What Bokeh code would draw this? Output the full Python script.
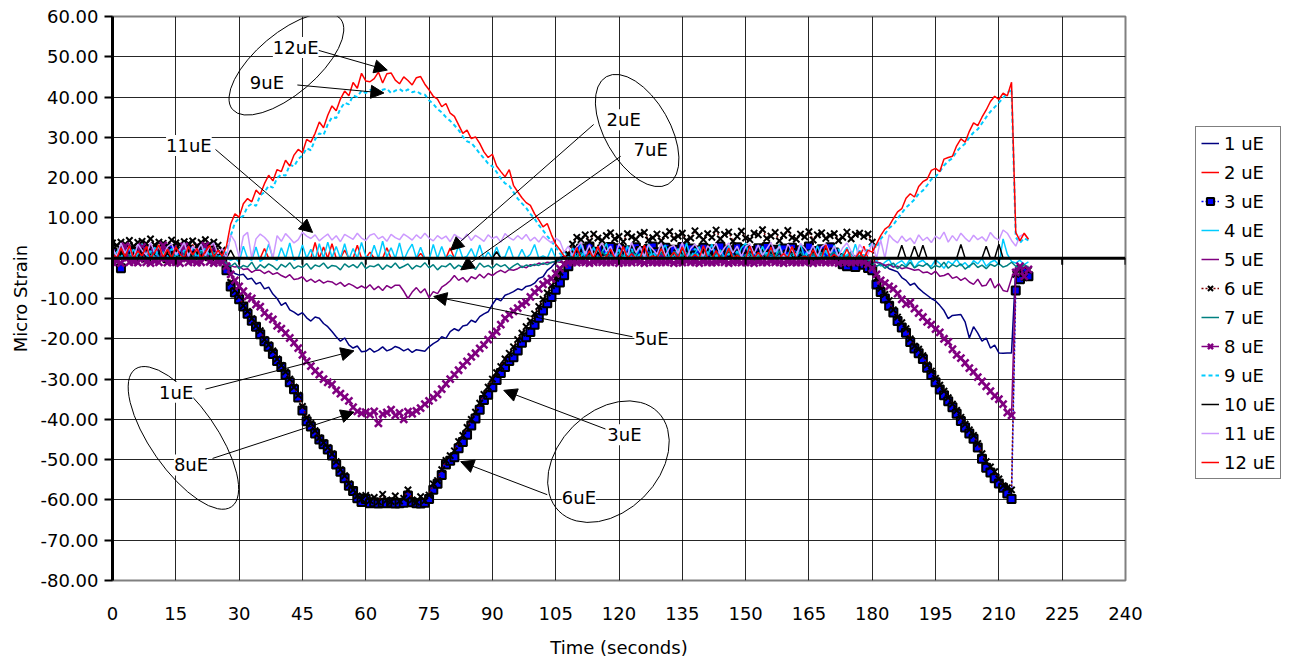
from bokeh.plotting import figure
from bokeh.layouts import row
from bokeh.models import (Range1d, FixedTicker, NumeralTickFormatter, Legend, LegendItem,
                          Label, Arrow, NormalHead, Span)
from bokeh.embed import file_html
from bokeh.resources import INLINE

# ---------------- data (1 sample per second) ----------------
time_s = list(range(0, 218))

s1 = [0.5, 1.8, 0.2, 2.5, 1.0, 0.0, 2.2, 1.4, 0.3, 2.8,
      0.9, 1.6, 0.0, 2.0, 1.2, 0.4, 2.6, 1.0, 0.2, 1.9,
      0.7, 2.3, 1.1, 0.0, 1.7, 0.8, 0.0, -2.5, -3.0, -3.8,
      -4.2, -4.0, -5.2, -5.0, -6.4, -6.0, -7.6, -7.2, -8.9, -10.0,
      -11.7, -11.0, -12.8, -13.4, -14.1, -13.5, -14.8, -15.6, -14.6, -14.9,
      -16.2, -17.0, -18.2, -19.5, -20.6, -19.8, -21.5, -22.3, -21.8, -23.2,
      -23.1, -22.4, -23.3, -22.8, -22.0, -23.0, -22.6, -21.9, -22.3, -23.0,
      -22.5, -23.4, -22.7, -22.9, -23.1, -22.0, -21.2, -20.6, -19.5, -19.9,
      -18.2, -17.5, -18.0, -16.8, -16.6, -15.4, -15.9, -14.5, -13.8, -13.3,
      -11.5, -10.0, -10.6, -9.2, -8.8, -8.3, -7.6, -7.9, -7.0, -6.8,
      -6.2, -5.0, -4.6, -3.0, -2.2, -1.0, 0.2, 0.5, 0.0, 1.0,
      0.2, 1.5, 0.6, 0.0, 1.8, 0.9, 0.3, 1.2, 0.0, 1.6,
      0.7, 0.1, 1.9, 0.5, 1.1, 0.0, 1.4, 0.8, 0.2, 1.7,
      0.4, 1.0, 0.0, 1.3, 0.6, 1.8, 0.3, 0.9, 0.0, 1.5,
      0.7, 1.2, 0.1, 1.6, 0.4, 0.0, 1.9, 0.8, 1.1, 0.2,
      1.4, 0.6, 0.0, 1.7, 0.9, 0.3, 1.2, 0.5, 1.8, 0.0,
      1.0, 0.7, 1.5, 0.2, 0.8, 1.3, 0.0, 1.6, 0.4, 1.1,
      0.6, 0.0, 1.4, 0.9, 0.2, 1.0, 0.5, 0.0, -0.5, -1.0,
      -1.2, -1.0, -1.5, -1.8, -2.6, -3.0, -3.4, -4.8, -5.5, -6.7,
      -6.2, -7.5, -8.4, -9.2, -10.0, -10.6, -11.7, -13.0, -15.0, -14.2,
      -14.1, -14.0, -15.8, -19.8, -17.0, -18.6, -20.6, -19.8, -22.3, -21.6,
      -23.5, -23.6, -23.5, -23.5, -2.5, -3.0, -2.2, -2.8]

s2 = [2.0, 0.0, 3.2, 0.5, 0.0, 2.6, 0.0, 1.4, 3.5, 0.0,
      0.0, 2.2, 0.0, 3.0, 0.8, 0.0, 2.7, 0.0, 0.0, 3.4,
      1.0, 0.0, 2.4, 0.0, 3.1, 0.0, 0.5, 0.0, 0.0, 0.0,
      0.0, 0.0, 0.0, 0.0, 0.0, 0.0, 2.4, 0.0, 0.0, 0.0,
      0.0, 0.0, 0.0, 0.0, 0.0, 0.0, 0.0, 0.0, 3.9, 0.0,
      2.8, 0.0, 3.6, 0.0, 0.0, 2.0, 0.0, 0.0, 3.2, 0.0,
      0.0, 1.5, 0.0, 0.0, 0.0, 2.6, 0.0, 0.0, 0.0, 0.0,
      0.0, 0.0, 0.0, 1.2, 0.0, 0.0, 0.0, 0.0, 0.0, 0.0,
      2.5, 0.0, 0.0, 0.0, 0.0, 0.0, 0.0, 0.0, 0.0, 0.0,
      0.0, 0.0, 0.0, 0.0, 0.0, 0.0, 0.0, 0.0, 0.0, 0.0,
      0.0, 0.0, 0.0, 0.0, 0.0, 0.0, 0.0, 0.0, 0.0, 2.8,
      0.0, 0.0, 3.1, 0.0, 0.0, 1.6, 0.0, 0.0, 3.4, 0.0,
      0.0, 2.2, 0.0, 0.0, 0.0, 3.0, 0.0, 0.0, 1.8, 0.0,
      0.0, 0.0, 3.5, 0.0, 0.0, 2.4, 0.0, 0.0, 0.0, 3.2,
      0.0, 0.0, 1.4, 0.0, 0.0, 3.6, 0.0, 0.0, 2.6, 0.0,
      0.0, 0.0, 3.0, 0.0, 0.0, 0.0, 2.0, 0.0, 0.0, 3.3,
      0.0, 0.0, 1.9, 0.0, 0.0, 2.9, 0.0, 0.0, 0.0, 3.5,
      0.0, 0.0, 2.3, 0.0, 0.0, 1.2, 0.0, 0.0, 3.0, 0.0,
      0.0, -0.5, 0.0, 0.0, 0.0, 0.0, 0.0, 0.0, 0.0, 0.0,
      0.0, 0.0, 0.0, 0.0, 0.0, 0.0, 0.0, 0.0, 0.0, 0.0,
      0.0, 0.0, 0.0, 0.0, 0.0, 0.0, 0.0, 0.0, 0.0, 0.0,
      0.0, 0.0, 0.0, 0.0, 0.0, 0.0, 0.0, 0.0]

s3 = [1.5, 0.8, -2.5, 1.0, 2.0, 0.5, 1.6, 2.4, 0.2, 1.2,
      2.0, 0.9, 1.7, 0.0, 2.3, 1.0, 1.5, 0.4, 2.1, 1.3,
      0.7, 1.9, 2.6, 0.5, 1.4, 0.8, 0.0, -3.0, -7.0, -8.5,
      -10.2, -12.0, -13.8, -15.5, -17.0, -18.9, -20.6, -22.0, -23.8, -25.5,
      -27.0, -28.9, -30.8, -32.5, -34.6, -37.8, -40.5, -41.8, -43.5, -45.0,
      -46.2, -47.5, -49.0, -51.2, -53.0, -54.6, -56.5, -57.8, -59.6, -60.5,
      -59.8, -60.8, -60.6, -60.9, -60.7, -60.8, -60.6, -60.9, -60.8, -60.7,
      -58.9, -60.6, -60.8, -60.9, -60.7, -59.8, -57.5, -56.0, -53.8, -51.2,
      -50.3, -49.4, -47.2, -45.6, -43.8, -41.5, -39.8, -37.6, -35.2, -33.9,
      -32.0, -30.2, -28.5, -27.0, -25.5, -24.6, -22.9, -21.0, -19.6, -18.3,
      -16.5, -14.8, -13.0, -11.2, -9.6, -7.8, -6.0, -4.2, -2.0, 0.5,
      1.8, 2.4, 1.2, 2.9, 1.6, 0.8, 2.2, 1.9, 2.8, 1.0,
      2.5, 1.4, 2.0, 0.6, 2.7, 1.8, 1.1, 2.3, 2.9, 1.5,
      0.9, 2.6, 1.7, 2.1, 1.0, 2.8, 1.3, 2.4, 0.7, 1.9,
      2.6, 1.2, 2.2, 1.6, 2.9, 0.8, 2.0, 1.4, 2.7, 1.1,
      2.3, 1.8, 0.6, 2.5, 1.5, 2.8, 1.0, 2.1, 1.7, 2.4,
      0.9, 2.6, 1.3, 2.0, 1.6, 2.9, 0.5, 1.8, 2.2, 1.2,
      2.7, 1.4, 0.0, -1.5, -2.0, -1.0, -2.2, -0.8, -1.6, -2.4,
      -3.0, -6.5, -8.4, -10.0, -11.8, -13.5, -15.6, -17.2, -18.5, -20.8,
      -22.4, -23.6, -25.0, -27.2, -29.0, -30.8, -32.6, -34.0, -35.5, -37.0,
      -38.6, -40.4, -42.0, -43.5, -44.8, -47.0, -49.8, -52.0, -53.2, -54.6,
      -55.9, -57.0, -58.4, -59.8, -8.0, -5.2, -3.4, -4.5]

s4 = [0.0, 1.5, 3.0, 0.0, 0.5, 2.2, 0.0, 3.6, 0.8, 0.0,
      2.8, 0.0, 1.2, 3.4, 0.0, 0.6, 2.5, 0.0, 3.0, 0.3,
      0.0, 2.0, 0.0, 3.8, 0.4, 0.0, 1.0, 0.0, -0.5, 0.0,
      -1.0, 3.0, 0.0, -0.5, 2.8, -0.8, 0.0, 3.5, 0.0, -0.6,
      2.6, 0.0, 3.8, -0.5, 0.0, 3.3, 0.0, 2.2, -0.4, 3.6,
      0.0, 4.0, 0.2, 2.9, 0.0, 3.6, -0.3, 2.4, 0.0, 3.9,
      0.5, 0.0, 3.2, 0.0, 4.2, 0.3, 2.6, 0.0, 3.8, -0.5,
      1.8, 3.5, 0.0, 2.7, 0.0, -0.4, 3.4, 0.0, 2.9, 0.0,
      0.8, 0.0, 3.1, 0.0, 0.5, 2.4, 0.0, 3.3, -0.2, 1.5,
      0.0, 2.8, 0.0, 0.4, 3.0, 0.0, 0.0, 2.2, 0.0, 1.0,
      3.4, 0.0, 0.6, 0.0, 2.5, 0.0, 0.0, 1.8, 0.0, 2.6,
      0.0, 3.5, 0.2, 0.0, 2.8, 0.0, 1.5, 3.7, 0.0, 0.6,
      2.2, 0.0, 3.1, 0.0, 0.9, 2.7, 0.0, 3.6, 0.3, 0.0,
      1.9, 3.3, 0.0, 0.5, 2.4, 0.0, 3.8, 0.0, 1.2, 2.9,
      0.0, 0.7, 3.5, 0.0, 2.1, 0.0, 3.2, 0.4, 0.0, 2.6,
      3.7, 0.0, 1.4, 0.0, 3.0, 0.2, 2.3, 0.0, 3.4, 0.0,
      0.8, 2.8, 0.0, 3.6, 0.0, 1.6, 0.0, 3.1, 0.5, 2.0,
      0.0, 3.3, 0.0, 1.1, 2.7, 0.0, 3.5, 0.0, 0.9, 0.0,
      -1.5, -0.5, -2.0, -1.0, -0.3, -2.2, -1.2, -0.6, -1.8, -0.2,
      -2.4, -1.0, -0.5, -1.6, -2.0, -0.4, -1.3, -2.5, -0.8, -1.5,
      -0.2, -1.9, -1.1, -2.3, -0.6, -1.4, -0.1, -2.0, -1.0, -0.5,
      -1.7, 4.8, 1.0, -0.8, -1.2, -0.5, -1.6, -0.9]

s5 = [3.5, -1.0, 3.2, -0.8, 3.6, -1.0, 3.4, -1.2, 3.0, 3.5,
      -1.0, 3.3, -0.9, 3.6, -1.1, 3.2, 3.5, -1.0, 3.4, -0.8,
      3.6, -1.0, 3.1, -1.2, 3.5, -1.0, 0.0, -1.0, -1.8, -2.2,
      -2.0, -2.8, -2.6, -3.5, -2.9, -3.0, -3.8, -3.2, -4.0, -3.6,
      -4.3, -4.8, -4.1, -5.3, -5.1, -4.6, -5.8, -5.2, -6.0, -5.4,
      -6.2, -5.7, -5.9, -6.6, -6.0, -7.0, -6.3, -6.8, -7.5, -6.9,
      -7.5, -6.6, -7.8, -7.0, -8.0, -6.8, -7.4, -6.7, -6.7, -8.2,
      -10.0, -8.4, -7.3, -8.6, -7.6, -9.8, -8.3, -8.8, -7.2, -6.5,
      -5.6, -4.3, -5.5, -4.8, -5.9, -4.6, -5.1, -4.0, -4.9, -3.8,
      -4.3, -3.5, -3.0, -3.6, -2.8, -3.0, -2.6, -2.0, -2.4, -1.6,
      -1.8, -1.2, -1.5, -1.0, -1.1, -0.8, -1.0, -1.0, -1.0, -1.0,
      -0.8, -1.2, -1.0, 0.5, -1.0, -1.1, -0.9, -1.0, 1.0, -1.2,
      -1.0, -0.8, -1.0, -1.1, 0.3, -1.0, -0.9, -1.2, -1.0, -1.0,
      0.8, -1.1, -1.0, -0.9, -1.0, -1.2, -1.0, 0.6, -1.0, -0.8,
      -1.1, -1.0, -1.0, -1.2, 1.2, -1.0, -0.9, -1.0, -1.1, -1.0,
      -0.8, 0.4, -1.0, -1.2, -1.0, -0.9, -1.0, -1.1, 0.9, -1.0,
      -1.0, -1.2, -0.8, -1.0, -1.1, 0.7, -1.0, -0.9, -1.0, -1.2,
      -1.0, -1.0, 0.2, -1.1, -1.0, -0.8, -1.0, -1.2, -1.0, -1.0,
      -1.0, -1.0, -1.2, -1.8, -1.5, -2.2, -2.0, -2.6, -2.3, -2.6,
      -3.0, -2.8, -3.6, -3.4, -4.0, -3.2, -4.5, -4.3, -3.8, -5.0,
      -4.6, -5.5, -4.9, -5.9, -6.5, -5.2, -6.9, -6.7, -5.0, -7.4,
      -6.3, -8.0, -8.3, -5.0, -2.2, -1.8, -2.5, -2.0]

s6 = [3.8, 3.2, 4.0, 3.5, 4.4, 3.0, 3.9, 4.2, 3.6, 4.8,
      3.3, 4.0, 3.7, 3.1, 4.5, 3.8, 3.4, 4.1, 3.6, 4.3,
      3.0, 3.9, 4.6, 3.5, 4.0, 3.2, 2.0, -2.0, -6.0, -8.0,
      -9.5, -11.8, -13.2, -15.0, -16.8, -18.0, -20.2, -21.5, -23.0, -25.0,
      -26.6, -28.2, -30.0, -32.0, -34.0, -36.8, -39.6, -41.0, -42.8, -44.6,
      -45.8, -47.0, -48.6, -50.5, -52.5, -54.0, -56.0, -57.5, -59.0, -59.8,
      -58.9, -60.2, -59.4, -60.5, -58.6, -60.0, -60.4, -59.0, -60.3, -59.6,
      -57.5, -60.0, -60.6, -59.2, -60.2, -58.8, -56.0, -55.2, -52.5, -50.2,
      -49.0, -47.8, -45.5, -44.0, -42.0, -40.0, -38.2, -36.0, -33.8, -32.0,
      -30.0, -28.4, -26.9, -25.0, -23.6, -22.0, -20.2, -18.6, -17.0, -15.6,
      -13.8, -12.0, -10.2, -8.6, -6.8, -5.0, -3.5, -1.5, 1.0, 3.5,
      5.2, 4.6, 5.8, 4.2, 6.0, 5.0, 4.4, 5.6, 6.3, 4.8,
      5.4, 4.1, 6.1, 5.3, 4.7, 5.9, 6.4, 4.5, 5.1, 6.0,
      4.3, 5.7, 6.6, 4.9, 5.5, 6.2, 4.4, 5.0, 6.8, 5.6,
      4.6, 6.1, 5.2, 7.0, 4.8, 5.9, 6.5, 4.2, 5.4, 6.7,
      5.0, 4.6, 6.2, 5.8, 7.1, 4.9, 5.5, 6.4, 4.3, 5.7,
      6.9, 5.1, 4.7, 6.0, 5.3, 6.6, 4.5, 5.8, 6.3, 4.9,
      5.6, 6.1, 4.4, 5.2, 6.5, 4.8, 5.9, 6.2, 5.4, 6.0,
      4.0, -5.0, -7.5, -9.0, -10.5, -12.8, -14.6, -16.0, -17.5, -20.0,
      -21.8, -22.6, -24.2, -26.5, -28.0, -29.8, -31.5, -33.0, -34.6, -36.2,
      -37.8, -39.5, -41.2, -42.6, -44.0, -46.0, -48.5, -50.5, -51.8, -53.0,
      -54.8, -56.5, -57.0, -57.5, -4.0, -2.5, -4.8, -3.0]

s7 = [0.5, 1.2, 0.0, 1.8, 0.6, 0.2, 1.5, 0.0, 0.9, 1.3,
      0.4, 0.0, 1.6, 0.8, 0.1, 1.1, 0.0, 1.4, 0.5, 0.9,
      0.0, 1.7, 0.3, 1.0, 0.0, 0.6, 0.2, -1.5, -2.0, -1.2,
      -2.6, -1.8, -2.2, -1.0, -2.8, -1.6, -2.4, -1.4, -2.0, -2.9,
      -1.5, -2.2, -1.1, -2.6, -1.9, -2.3, -1.3, -2.7, -1.7, -2.1,
      -1.2, -2.5, -1.8, -2.0, -2.9, -1.4, -2.2, -1.6, -2.4, -1.0,
      -2.6, -1.9, -2.1, -1.5, -2.8, -1.7, -2.3, -1.2, -2.5, -2.0,
      -1.4, -2.7, -1.8, -2.2, -1.1, -2.4, -1.6, -2.9, -1.9, -2.1,
      -1.3, -2.6, -1.7, -2.3, -1.5, -2.0, -2.8, -1.2, -2.2, -1.8,
      -2.5, -1.4, -2.1, -1.6, -2.7, -1.9, -1.3, -2.3, -1.7, -2.0,
      -1.5, -1.8, -1.2, -1.6, -1.0, -0.8, -0.5, -0.2, 0.0, 0.8,
      0.2, 1.4, 0.0, 0.7, 1.1, 0.0, 1.6, 0.4, 0.9, 0.0,
      1.3, 0.5, 0.0, 1.8, 0.6, 1.0, 0.1, 1.5, 0.0, 0.8,
      1.2, 0.3, 0.0, 1.7, 0.9, 0.4, 1.4, 0.0, 1.0, 0.6,
      0.0, 1.6, 0.2, 1.1, 0.7, 0.0, 1.9, 0.5, 1.2, 0.0,
      0.9, 1.3, 0.0, 0.6, 1.5, 0.3, 1.0, 0.0, 1.8, 0.4,
      0.0, 1.2, 0.7, 1.6, 0.0, 0.5, 1.1, 0.2, 1.4, 0.0,
      0.8, 1.5, 0.0, 1.0, 0.3, 1.7, 0.0, 0.6, 0.0, -0.5,
      -1.2, -2.0, -1.5, -2.5, -1.8, -1.2, -2.6, -1.6, -2.2, -1.0,
      -2.4, -1.7, -2.0, -1.3, -2.6, -1.8, -2.2, -1.0, -2.5, -1.6,
      -2.1, -1.4, -2.7, -1.9, -1.2, -2.3, -1.7, -2.6, -1.5, -2.0,
      -1.3, -2.2, -1.8, -1.0, -2.0, -2.5, -1.6, -2.2]

s8 = [-1.0, -0.8, -1.2, 3.0, -1.0, -0.9, -1.1, 2.8, -1.0, -1.2,
      -0.8, -1.0, 3.2, -1.1, -0.9, -1.0, -1.2, 2.9, -1.0, -0.8,
      -1.1, -1.0, 3.1, -0.9, -1.2, -1.0, -1.0, -2.0, -4.0, -5.5,
      -7.0, -8.2, -9.5, -10.0, -11.5, -12.0, -13.6, -14.5, -15.2, -16.8,
      -17.5, -18.6, -19.8, -21.0, -22.3, -24.0, -25.6, -26.8, -28.0, -28.9,
      -30.0, -30.8, -31.3, -32.8, -33.6, -34.5, -35.4, -37.0, -38.0, -38.5,
      -38.2, -38.8, -38.0, -41.0, -38.7, -38.3, -37.6, -39.0, -38.4, -40.0,
      -38.1, -38.6, -37.9, -37.2, -36.2, -35.4, -34.6, -33.8, -32.5, -31.2,
      -30.0, -28.9, -27.8, -26.6, -25.6, -24.5, -23.6, -22.4, -21.5, -20.2,
      -19.0, -18.2, -16.5, -14.9, -14.0, -13.2, -12.4, -11.5, -10.9, -9.6,
      -8.4, -7.6, -6.5, -5.8, -5.1, -3.8, -2.6, -1.5, -1.0, -1.0,
      -1.1, -0.9, -1.0, -1.2, -1.0, -0.8, -1.0, -1.1, -1.0, -0.9,
      -1.2, -1.0, -1.0, -1.1, -0.8, -1.0, -1.2, -0.9, -1.0, -1.1,
      -1.0, -1.0, -0.9, -1.2, -1.0, -1.1, -0.8, -1.0, -1.0, -1.2,
      -0.9, -1.0, -1.1, -1.0, -0.8, -1.0, -1.2, -1.0, -0.9, -1.1,
      -1.0, -1.0, -1.2, -0.9, -1.0, -1.1, -0.8, -1.0, -1.0, -1.2,
      -0.9, -1.0, -1.1, -1.0, -1.0, -0.8, -1.2, -1.0, -0.9, -1.1,
      -1.0, -1.0, -1.2, -0.9, -1.0, -1.1, -1.0, -0.8, -1.0, -1.5,
      -2.5, -4.0, -5.5, -6.2, -7.0, -7.6, -8.8, -10.2, -11.4, -11.0,
      -12.5, -13.6, -14.6, -15.8, -16.5, -17.6, -18.4, -20.0, -20.8, -22.6,
      -24.0, -24.8, -26.0, -27.3, -28.2, -29.5, -30.6, -31.8, -33.0, -34.2,
      -35.0, -36.2, -38.3, -39.0, -3.5, -2.0, -4.5, -2.8]

s9 = [0.8, 2.0, 0.3, 1.5, 2.6, 0.0, 1.2, 2.2, 0.5, 1.8,
      0.0, 2.7, 1.0, 0.4, 2.3, 1.3, 0.0, 2.0, 0.9, 2.5,
      0.2, 1.6, 2.4, 0.6, 1.9, 0.0, 1.1, 1.5, 5.5, 8.8,
      9.9, 10.5, 12.8, 13.5, 13.0, 15.6, 16.4, 18.0, 17.5, 19.9,
      20.8, 20.5, 23.2, 22.8, 24.6, 25.5, 27.3, 26.8, 29.5, 31.0,
      30.6, 33.2, 35.0, 34.8, 37.1, 38.6, 38.2, 40.4, 40.0, 41.6,
      41.0, 41.7, 42.0, 41.2, 41.8, 42.1, 41.0, 41.6, 42.0, 41.3,
      41.9, 41.2, 41.5, 40.8, 40.6, 39.2, 38.3, 37.0, 36.2, 35.0,
      34.1, 33.0, 31.8, 30.2, 29.0, 28.6, 27.4, 26.0, 24.8, 23.5,
      22.8, 21.4, 19.8, 18.6, 18.0, 16.4, 14.8, 13.6, 12.5, 11.0,
      9.8, 8.2, 6.9, 5.5, 4.2, 2.8, 1.2, 0.3, 0.0, 1.2,
      0.0, 0.5, 1.8, 0.0, 0.9, 2.1, 0.0, 1.4, 0.3, 0.0,
      1.9, 0.7, 0.0, 2.3, 0.0, 1.0, 0.4, 0.0, 1.6, 0.0,
      2.0, 0.6, 0.0, 1.3, 0.0, 1.8, 0.2, 0.0, 2.4, 0.0,
      0.8, 1.5, 0.0, 0.3, 2.0, 0.0, 1.1, 0.0, 1.7, 0.5,
      0.0, 2.2, 0.0, 0.9, 0.0, 1.4, 0.0, 2.5, 0.4, 0.0,
      1.2, 0.0, 1.9, 0.0, 0.6, 2.1, 0.0, 1.0, 0.0, 1.6,
      0.3, 0.0, 2.3, 0.0, 0.8, 1.5, 0.0, 1.9, 0.4, 2.6,
      3.8, 2.5, 4.8, 6.0, 7.5, 8.3, 9.8, 11.2, 12.6, 13.5,
      14.6, 16.0, 16.8, 18.1, 19.6, 20.2, 21.5, 23.0, 24.1, 24.8,
      26.5, 27.6, 28.4, 30.0, 31.2, 32.0, 33.5, 35.0, 36.4, 37.5,
      38.6, 39.8, 41.0, 42.0, 5.2, 3.8, 5.0, 4.4]

s10 = [0.0, 0.0, 1.8, 0.0, 0.0, 0.0, 0.0, 2.5, 0.0, 0.0,
       0.0, 0.0, 0.0, 1.2, 0.0, 0.0, 0.0, 0.0, 2.0, 0.0,
       0.0, 0.0, 0.0, 0.0, 0.0, 0.0, 0.0, 0.0, 2.0, 0.0,
       0.0, 0.0, 0.0, 0.0, 0.0, 0.0, 0.0, 0.0, 0.0, 0.0,
       0.0, 0.0, 0.0, 0.0, 0.0, 0.0, 0.0, 0.0, 0.0, 0.0,
       0.0, 0.0, 0.0, 0.0, 0.0, 0.0, 0.0, 0.0, 0.0, 0.0,
       0.0, 0.0, 0.0, 0.0, 0.0, 0.0, 0.0, 0.0, 0.0, 0.0,
       0.0, 0.0, 0.0, 0.0, 0.0, 0.0, 0.0, 0.0, 0.0, 0.0,
       0.0, 0.0, 0.0, 0.0, 0.0, 0.0, 0.0, 0.0, 0.0, 0.0,
       0.0, 1.6, 0.0, 0.0, 0.0, 0.0, 0.0, 0.0, 0.0, 0.0,
       0.0, 0.0, 0.0, 0.0, 0.0, 0.0, 0.0, 0.0, 0.0, 0.0,
       0.0, 0.0, 0.0, 0.0, 0.0, 1.5, 0.0, 0.0, 0.0, 0.0,
       0.0, 0.0, 0.0, 0.0, 0.0, 0.0, 0.0, 0.0, 0.0, 0.0,
       0.0, 0.0, 0.0, 0.0, 0.0, 0.0, 0.0, 0.0, 0.0, 0.0,
       0.0, 0.0, 0.0, 0.0, 0.0, 0.0, 0.0, 1.8, 0.0, 0.0,
       0.0, 0.0, 0.0, 0.0, 0.0, 0.0, 0.0, 0.0, 0.0, 0.0,
       0.0, 0.0, 0.0, 0.0, 0.0, 0.0, 0.0, 0.0, 0.0, 0.0,
       0.0, 0.0, 0.0, 0.0, 0.0, 0.0, 0.0, 0.0, 0.0, 0.0,
       0.0, 0.0, 0.0, 0.0, 0.0, 0.0, 0.0, 3.2, 0.0, 0.0,
       3.0, 0.0, 3.2, 0.0, 0.0, 0.0, 0.0, 0.0, 0.0, 0.0,
       0.0, 3.4, 0.0, 0.0, 0.0, 0.0, 0.0, 3.0, 0.0, 0.0,
       3.5, 0.0, 0.0, 0.0, 0.0, 0.0, 0.0, 0.0]

s11 = [2.5, 0.5, 3.8, 1.2, 3.0, 0.0, 3.5, 2.0, 0.8, 3.9,
       1.5, 3.2, 0.3, 2.8, 3.6, 0.9, 2.2, 3.9, 0.4, 3.0,
       1.8, 3.5, 0.6, 2.9, 3.8, 1.1, 2.4, 0.0, 5.8, 4.2,
       0.2, 5.5, 6.4, 0.0, 4.8, 6.0, 5.2, 4.0, 0.0, 5.6,
       4.2, 6.1, 5.0, 3.8, 4.6, 6.4, 5.5, 4.9, 5.8, 4.3,
       5.2, 6.0, 4.5, 5.6, 4.1, 5.9, 5.3, 4.7, 6.2, 5.0,
       4.4, 5.7, 6.1, 4.8, 5.4, 4.2, 5.9, 5.1, 4.6, 6.0,
       5.3, 4.5, 5.8, 4.9, 6.2, 5.0, 4.3, 5.6, 4.8, 5.5,
       4.1, 5.9, 5.2, 4.6, 6.0, 4.4, 5.7, 5.0, 4.2, 5.8,
       4.9, 5.4, 4.0, 6.1, 5.1, 4.5, 5.6, 4.7, 5.9, 4.3,
       5.2, 4.0, 5.5, 4.6, 3.8, 5.0, 4.2, 1.5, 3.0, 0.5,
       2.8, 3.9, 1.0, 3.3, 0.4, 2.5, 3.7, 1.6, 3.0, 0.2,
       3.6, 2.1, 0.8, 3.9, 1.4, 2.9, 0.3, 3.4, 2.2, 1.0,
       3.8, 0.6, 2.7, 3.2, 1.2, 3.9, 0.0, 2.4, 3.5, 1.8,
       0.5, 3.1, 2.0, 3.7, 0.9, 2.6, 3.8, 1.3, 3.0, 0.4,
       2.8, 3.6, 1.1, 3.3, 0.7, 2.3, 3.9, 1.5, 2.9, 0.2,
       3.5, 1.9, 0.6, 3.7, 2.5, 1.0, 3.2, 0.3, 2.8, 3.6,
       1.2, 3.0, 0.5, 2.6, 3.8, 1.7, 0.0, 3.4, 2.0, 0.9,
       3.8, 0.0, 4.5, 0.0, 5.8, 4.6, 3.8, 5.5, 4.2, 5.0,
       3.6, 5.8, 4.4, 5.2, 3.9, 5.5, 4.8, 6.5, 4.0, 5.6,
       4.3, 6.2, 5.0, 4.1, 5.7, 4.6, 5.3, 4.2, 6.4, 5.1,
       4.5, 7.0, 6.2, 4.4, 3.0, 5.5, 6.0, 4.8]

s12 = [1.2, 0.0, 2.5, 0.4, 3.1, 0.0, 1.8, 0.6, 2.9, 0.0,
       1.5, 3.3, 0.2, 2.2, 0.0, 2.8, 1.0, 0.0, 3.0, 0.8,
       2.4, 0.0, 1.6, 3.2, 0.3, 2.0, 0.5, 3.0, 8.5, 11.0,
       10.2, 13.5, 14.8, 14.0, 16.9, 15.8, 18.5, 20.6, 19.2, 22.0,
       21.5, 24.3, 22.9, 25.6, 27.0, 26.2, 29.5, 28.8, 31.0, 33.8,
       32.4, 35.5, 37.8, 36.6, 39.5, 41.5, 40.3, 43.6, 42.2, 45.9,
       44.0, 43.8, 44.6, 46.2, 43.5, 45.8, 46.0, 44.2, 43.3, 45.0,
       44.1, 43.0, 44.8, 45.1, 43.2, 41.8, 40.2, 39.5, 37.6, 38.4,
       36.0, 35.2, 33.1, 31.0, 31.8, 29.7, 30.1, 28.5, 26.4, 25.0,
       25.8, 22.9, 21.5, 20.2, 22.0, 18.1, 16.5, 15.0, 13.8, 13.1,
       11.0, 9.5, 7.8, 8.6, 5.8, 3.5, 2.1, 0.5, 0.0, 0.0,
       2.6, 0.0, 0.0, 1.8, 0.0, 3.0, 0.0, 0.4, 2.2, 0.0,
       0.0, 2.9, 0.0, 1.1, 0.0, 0.0, 3.2, 0.0, 0.6, 0.0,
       2.4, 0.0, 0.0, 1.5, 0.0, 2.8, 0.0, 0.0, 0.9, 0.0,
       3.1, 0.0, 0.0, 1.9, 0.0, 0.0, 2.5, 0.0, 0.7, 0.0,
       0.0, 3.0, 0.0, 1.4, 0.0, 0.0, 2.7, 0.0, 0.0, 1.2,
       0.0, 2.9, 0.0, 0.0, 0.5, 0.0, 2.1, 0.0, 0.0, 3.3,
       0.0, 1.0, 0.0, 0.0, 2.3, 0.0, 0.0, 1.6, 0.0, 2.0,
       1.5, 3.5, 5.6, 7.2, 8.0, 9.8, 11.5, 12.3, 14.9, 16.0,
       15.2, 17.8, 19.0, 19.6, 21.8, 22.3, 21.5, 24.6, 25.0, 25.3,
       27.9, 29.6, 28.8, 31.5, 33.6, 32.9, 35.0, 36.8, 38.9, 40.2,
       39.4, 41.0, 40.3, 43.7, 6.4, 4.3, 6.2, 4.7]

series_labels = ["1 uE", "2 uE", "3 uE", "4 uE", "5 uE", "6 uE",
                 "7 uE", "8 uE", "9 uE", "10 uE", "11 uE", "12 uE"]

x_ticks = [0, 15, 30, 45, 60, 75, 90, 105, 120, 135, 150, 165, 180, 195, 210, 225, 240]
y_ticks = [-80, -70, -60, -50, -40, -30, -20, -10, 0, 10, 20, 30, 40, 50, 60]

# annotation callouts (data units)
ann_text = ["12uE", "9uE", "11uE", "2uE", "7uE", "5uE", "1uE", "8uE", "3uE", "6uE"]
ann_x = [43.4, 36.6, 18.1, 121.1, 127.5, 127.7, 15.1, 18.6, 121.3, 110.5]
ann_y = [52.3, 43.6, 28.0, 34.4, 26.9, -20.0, -33.3, -51.3, -43.8, -59.5]
arr_x0 = [48.8, 43.8, 24.4, 114.0, 120.4, 123.2, 22.0, 23.7, 116.8, 103.0]
arr_y0 = [51.6, 43.0, 27.0, 33.2, 25.3, -19.5, -32.5, -49.7, -42.4, -58.7]
arr_x1 = [65.1, 64.3, 47.4, 80.1, 82.5, 76.1, 57.2, 57.2, 92.7, 82.5]
arr_y1 = [46.7, 41.0, 6.4, 2.0, -2.9, -9.5, -23.0, -38.2, -32.8, -50.5]
ell_x = [41.2, 124.3, 16.8, 117.5]
ell_y = [48.2, 31.7, -44.6, -50.5]
ell_w = [141, 124, 168, 140]
ell_h = [61, 65, 66, 100]
ell_angle = [0.70, -1.05, -0.96, 0.785]

# ---------------- main figure ----------------
FONT = "DejaVu Sans"
FS = "18px"

p = figure(width=1194, height=660, x_range=Range1d(0, 240), y_range=Range1d(-80, 60),
           output_backend="svg", toolbar_location=None,
           min_border_left=112, min_border_right=69, min_border_top=16, min_border_bottom=75)
p.background_fill_color = "white"
p.border_fill_color = "white"
p.outline_line_color = "#808080"
p.outline_line_width = 2

p.xgrid.ticker = FixedTicker(ticks=x_ticks)
p.ygrid.ticker = FixedTicker(ticks=y_ticks)
for g in (p.xgrid, p.ygrid):
    g.grid_line_color = "#000000"
    g.grid_line_width = 1
    g.grid_line_alpha = 0.85

xa = p.xaxis[0]
xa.ticker = FixedTicker(ticks=x_ticks)
xa.axis_line_color = None
xa.major_tick_line_color = None
xa.minor_tick_line_color = None
xa.major_label_standoff = 20
xa.axis_label = "Time (seconds)"
xa.axis_label_standoff = 14

ya = p.yaxis[0]
ya.ticker = FixedTicker(ticks=y_ticks)
ya.formatter = NumeralTickFormatter(format="0.00")
ya.axis_line_color = "black"
ya.axis_line_width = 3
ya.major_tick_in = 0
ya.major_tick_out = 8
ya.major_tick_line_width = 2
ya.major_tick_line_color = "black"
ya.minor_tick_line_color = None
ya.major_label_standoff = 6
ya.axis_label = "Micro Strain"
ya.axis_label_standoff = 6

for ax in (xa, ya):
    ax.major_label_text_font = FONT
    ax.major_label_text_font_size = FS
    ax.major_label_text_color = "black"
    ax.axis_label_text_font = FONT
    ax.axis_label_text_font_size = FS
    ax.axis_label_text_font_style = "normal"
    ax.axis_label_text_color = "black"

values = [s1, s2, s3, s4, s5, s6, s7, s8, s9, s10, s11, s12]
styles = [
    dict(color="#000080", dash="solid", width=1.5, marker=None),
    dict(color="#FF0000", dash="solid", width=1.5, marker=None),
    dict(color="#0000FF", dash="2 2", width=1.5, marker="square"),
    dict(color="#00CCFF", dash="solid", width=1.5, marker=None),
    dict(color="#800080", dash="solid", width=1.5, marker=None),
    dict(color="#800000", dash="2 2", width=1.5, marker="x6"),
    dict(color="#008080", dash="solid", width=1.5, marker=None),
    dict(color="#800080", dash="solid", width=1.5, marker="x8"),
    dict(color="#00CCFF", dash="4 3", width=2, marker=None),
    dict(color="#000000", dash="solid", width=1.5, marker=None),
    dict(color="#CC99FF", dash="solid", width=1.5, marker=None),
    dict(color="#FF0000", dash="solid", width=1.5, marker=None),
]


def draw(fig, xs, vals, st, msize=1.0):
    r = fig.line(xs, vals, line_color=st["color"], line_width=st["width"], line_dash=st["dash"])
    rs = [r]
    if st["marker"] == "square":
        rs.append(fig.scatter(xs, vals, marker="square", size=8 * msize, fill_color="#0000FF",
                              line_color="black", line_width=2))
    elif st["marker"] == "x6":
        rs.append(fig.scatter(xs, vals, marker="x", size=9 * msize, line_color="black",
                              line_width=2))
    elif st["marker"] == "x8":
        rs.append(fig.scatter(xs, vals, marker="x", size=10 * msize, line_color="#800080",
                              line_width=2.5))
    return rs


for vals, st in zip(values, styles):
    draw(p, time_s[:len(vals)], vals, st)

# x-axis line at zero with its tick marks
p.add_layout(Span(location=0, dimension="width", line_color="black", line_width=3))
p.segment(x0=x_ticks, y0=[0] * len(x_ticks), x1=x_ticks, y1=[-1.6] * len(x_ticks),
          line_color="black", line_width=2)

# callout ellipses
p.ellipse(x=ell_x, y=ell_y, width=ell_w, height=ell_h, angle=ell_angle,
          width_units="screen", height_units="screen",
          fill_color=None, line_color="black", line_width=1)

for i in range(len(ann_text)):
    p.add_layout(Arrow(end=NormalHead(size=13, fill_color="black", line_color="black"),
                       x_start=arr_x0[i], y_start=arr_y0[i], x_end=arr_x1[i], y_end=arr_y1[i],
                       line_color="black", line_width=1))
for i in range(len(ann_text)):
    p.add_layout(Label(x=ann_x[i], y=ann_y[i], text=ann_text[i], text_font=FONT,
                       text_font_size=FS, text_align="center", text_baseline="middle",
                       text_color="black", background_fill_color="white",
                       background_fill_alpha=1.0))

# ---------------- legend panel (separate canvas to the right) ----------------
lp = figure(width=91, height=660, x_range=Range1d(0, 1), y_range=Range1d(0, 1),
            x_axis_type=None, y_axis_type=None, output_backend="svg",
            toolbar_location=None, min_border=0, min_border_left=0, min_border_right=0,
            min_border_top=0, min_border_bottom=0)
lp.grid.visible = False
lp.outline_line_color = None
lp.background_fill_color = "white"
lp.border_fill_color = "white"

# legend proxies: one point pair each, placed outside the legend canvas' visible range
proxy_x = [5, 6]
proxy_y = [5, 5]
items = []
for lab, st in zip(series_labels, styles):
    rs = draw(lp, proxy_x, proxy_y, st, msize=0.8)
    items.append(LegendItem(label=lab, renderers=rs))

legend = Legend(items=items, location=(1, 101), orientation="vertical",
                label_text_font=FONT, label_text_font_size=FS, label_text_color="black",
                glyph_width=18, glyph_height=22, label_height=22, label_standoff=5,
                spacing=7, padding=5, margin=0,
                border_line_color="black", border_line_width=1,
                background_fill_color="white", background_fill_alpha=1.0)
lp.add_layout(legend)

layout = row(p, lp, spacing=0)
open("out.html", "w").write(file_html(layout, INLINE))
